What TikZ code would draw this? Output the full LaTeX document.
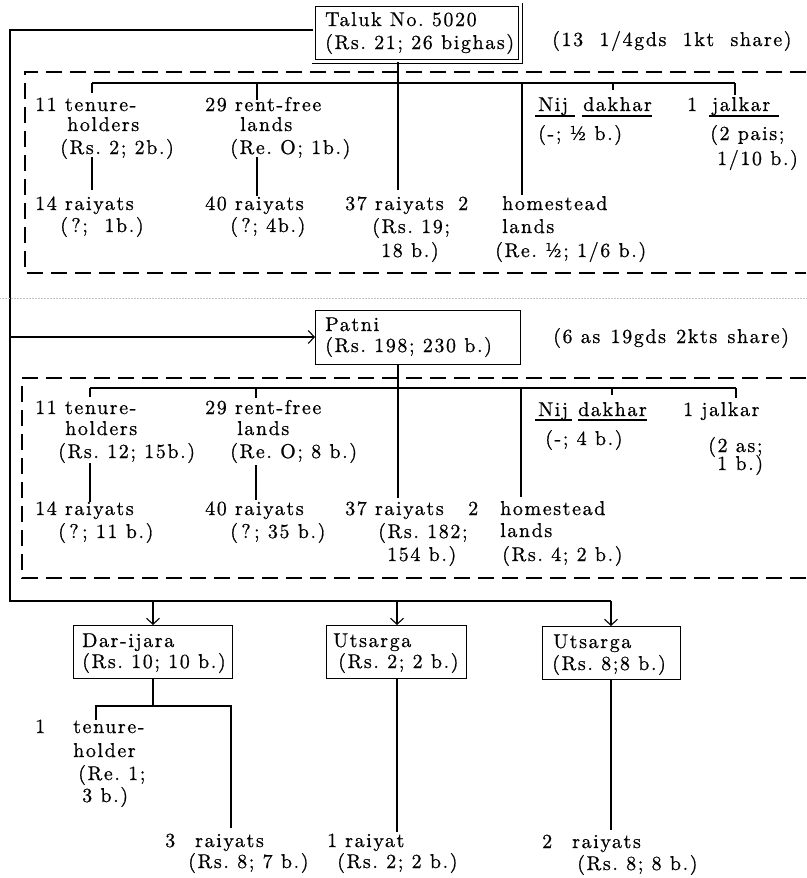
\documentclass[tikz,border=0pt]{standalone}
\usepackage{fontspec}
\setmainfont{lmroman10-regular.otf}[LetterSpace=8, FakeBold=0.7]
\usetikzlibrary{arrows.meta}
\begin{document}
\begin{tikzpicture}[x=1pt,y=-1pt,
  font=\fontsize{20}{23}\selectfont,
  txt/.style={anchor=base west, inner sep=0pt},
  ln/.style={line width=1.1pt},
  dsh/.style={line width=1.2pt, dash pattern=on 16pt off 8pt},
  bx/.style={draw, line width=1.1pt, anchor=north west, inner sep=0pt},
  arr/.style={ln, -{Straight Barb[length=6pt,width=13pt,line width=1.1pt]}}
]
\fill[white] (0,0) rectangle (806,878);
\useasboundingbox (0,0) rectangle (806,878);

% ---------- boxes ----------
\node[bx, double, double distance=2.6pt, line width=0.9pt, minimum width=206.7pt, minimum height=56.7pt] (taluk) at (313.3,4.3) {};
\node[bx, minimum width=205pt, minimum height=54pt] (patni) at (315,310) {};
\node[bx, minimum width=159pt, minimum height=53pt] (dar) at (73,625) {};
\node[bx, minimum width=140pt, minimum height=53pt] (uts1) at (326,625) {};
\node[bx, minimum width=138pt, minimum height=53pt] (uts2) at (542,626) {};

% ---------- box texts ----------
\node[txt] (taluk1) at (325,26) {Taluk No.\ 5020};
\node[txt] (taluk2) at (325,49) {(Rs.\ 21; 26 bighas)};
\node[txt] (share1) at (552,46) {(13\hspace{8pt} 1/4gds\hspace{8pt} 1kt\hspace{8pt} s\kern1.5pt h\kern1.5pt a\kern1.5pt r\kern1.5pt e\kern1.5pt)};
\node[txt] (patni1) at (325,331) {Patni};
\node[txt] (patni2) at (325,352) {(Rs.\ 198; 230 b.)};
\node[txt] (share2) at (553,343) {(6 as\hspace{2pt} 19gds\hspace{2pt} 2kts\hspace{2pt} share)};
\node[txt] (dar1) at (82,647) {Dar-ijara};
\node[txt] (dar2) at (82,668) {(Rs.\ 10; 10 b.)};
\node[txt] (utsa1) at (333,647) {Utsarga};
\node[txt] (utsa2) at (338,668) {(Rs.\ 2; 2 b.)};
\node[txt] (utsb1) at (553,648) {Utsarga};
\node[txt] (utsb2) at (552,670) {(Rs.\ 8;8 b.)};

% ---------- outer connectors ----------
\coordinate (Ltop) at (10,30);
\coordinate (Lpat) at (10,337);
\coordinate (Lbot) at (10,601);
\coordinate (Dtop) at (153,601);
\coordinate (Utop) at (397,601);
\coordinate (Vtop) at (611,601);
\draw[ln] (Ltop -| taluk.west) -- (Ltop) -- (Lbot) -- (Vtop);
\draw[arr] (Lpat) -- (Lpat -| patni.west);
\draw[arr] (Dtop) -- (Dtop |- dar.north);
\draw[arr] (Utop) -- (Utop |- uts1.north);
\draw[arr] (Vtop) -- (Vtop |- uts2.north);

% faint scan line
\draw[gray!45, line width=0.5pt, densely dotted] (0,298) -- (806,298);

% ---------- dashed regions ----------
\draw[dsh] (806,72) -- (25,72) -- (25,273) -- (806,273);
\draw[dsh] (806,378) -- (22,378) -- (22,578) -- (806,578);

% ---------- region 1 texts ----------
\node[txt] (r1a1) at (35,111) {11 tenure-};
\node[txt] (r1a2) at (67,131) {holders};
\node[txt] (r1a3) at (60,154) {(Rs.\ 2; 2b.)};
\node[txt] (r1a4) at (35,210) {14 raiyats};
\node[txt] (r1a5) at (60,232) {(\,?;\ \ 1b.)};
\node[txt] (r1b1) at (205,111) {29 rent-free};
\node[txt] (r1b2) at (240,131) {lands};
\node[txt] (r1b3) at (230,154) {(Re.\ O; 1b.)};
\node[txt] (r1b4) at (205,210) {40 raiyats};
\node[txt] (r1b5) at (230,232) {(\,?; 4b.)};
\node[txt] (r1c1) at (345,210) {37 raiyats};
\node[txt] (r1c2) at (372,233) {(Rs.\ 19;};
\node[txt] (r1c3) at (381,257) {18 b.)};
\node[txt] (r1d0) at (458,210) {2};
\node[txt] (r1d1) at (502,210) {homestead};
\node[txt] (r1d2) at (502,233) {lands};
\node[txt] (r1d3) at (495,257) {(Re.\ ½; 1/6 b.)};
\node[txt] (r1e1) at (538,111) {Nij};
\node[txt] (r1e2) at (583,111) {dakhar};
\node[txt] (r1f0) at (687,111) {1};
\node[txt] (r1f1) at (712,111) {jalkar};
\node[txt] (r1e3) at (538,140) {(-; ½ b.)};
\node[txt] (r1f2) at (710,140) {(2 pais;};
\node[txt] (r1f3) at (717,165) {1/10 b.)};

% underlines region 1
\draw[ln] (535,116) -- (575,116);
\draw[ln] (582,116) -- (652,116);
\draw[ln] (709,116) -- (779,116);

% ---------- region 1 connectors ----------
\coordinate (b1L) at (92,83);
\coordinate (b1R) at (735,83);
\coordinate (b1t1) at (92,93);
\coordinate (b1m) at (257,83);
\coordinate (b1t2) at (257,100);
\coordinate (b1n) at (613,83);
\coordinate (b1t3) at (613,90);
\coordinate (b1t4) at (735,95);
\coordinate (b1h) at (522,83);
\coordinate (b1hE) at (522,195);
\coordinate (tvE) at (398,190);
\draw[ln] (b1L) -- (b1R);
\draw[ln] (b1L) -- (b1t1);
\draw[ln] (b1m) -- (b1t2);
\draw[ln] (b1n) -- (b1t3);
\draw[ln] (b1R) -- (b1t4);
\draw[ln] (b1h) -- (b1hE);
\draw[ln] (tvE |- taluk.south) -- (tvE);
\coordinate (s1a) at (92,157); \coordinate (s1b) at (92,190);
\coordinate (s2a) at (257,157); \coordinate (s2b) at (257,196);
\draw[ln] (s1a) -- (s1b);
\draw[ln] (s2a) -- (s2b);

% ---------- region 2 texts ----------
\node[txt] (r2a1) at (35,414) {11 tenure-};
\node[txt] (r2a2) at (65,435) {holders};
\node[txt] (r2a3) at (58,458) {(Rs.\ 12; 15b.)};
\node[txt] (r2a4) at (35,515) {14 raiyats};
\node[txt] (r2a5) at (58,538) {(\,?\,; 11 b.)};
\node[txt] (r2b1) at (205,414) {29 rent-free};
\node[txt] (r2b2) at (237,435) {lands};
\node[txt] (r2b3) at (230,458) {(Re.\ O; 8 b.)};
\node[txt] (r2b4) at (205,515) {40 raiyats};
\node[txt] (r2b5) at (230,538) {(\,?\,; 35 b.)};
\node[txt] (r2c1) at (345,515) {37 raiyats};
\node[txt] (r2c2) at (378,538) {(Rs.\ 182;};
\node[txt] (r2c3) at (387,561) {154 b.)};
\node[txt] (r2d0) at (468,515) {2};
\node[txt] (r2d1) at (500,515) {homestead};
\node[txt] (r2d2) at (500,537) {lands};
\node[txt] (r2d3) at (502,561) {(Rs.\ 4; 2 b.)};
\node[txt] (r2e1) at (538,416) {Nij};
\node[txt] (r2e2) at (578,416) {dakhar};
\node[txt] (r2f1) at (683,416) {1 jalkar};
\node[txt] (r2e3) at (545,445) {(-; 4 b.)};
\node[txt] (r2f2) at (708,452) {(2 as;};
\node[txt] (r2f3) at (717,470) {1 b.)};

\draw[ln] (535,420) -- (572,420);
\draw[ln] (578,420) -- (647,420);

% ---------- region 2 connectors ----------
\coordinate (b2L) at (90,388);
\coordinate (b2R) at (736,388);
\coordinate (b2t1) at (90,397);
\coordinate (b2m) at (256,388);
\coordinate (b2t2) at (256,398);
\coordinate (b2n) at (612,388);
\coordinate (b2t3) at (612,395);
\coordinate (b2t4) at (736,398);
\coordinate (b2h) at (521,388);
\coordinate (b2hE) at (521,497);
\coordinate (pvE) at (398,498);
\draw[ln] (b2L) -- (b2R);
\draw[ln] (b2L) -- (b2t1);
\draw[ln] (b2m) -- (b2t2);
\draw[ln] (b2n) -- (b2t3);
\draw[ln] (b2R) -- (b2t4);
\draw[ln] (b2h) -- (b2hE);
\draw[ln] (pvE |- patni.south) -- (pvE);
\coordinate (s3a) at (90,463); \coordinate (s3b) at (90,502);
\coordinate (s4a) at (256,465); \coordinate (s4b) at (256,500);
\draw[ln] (s3a) -- (s3b);
\draw[ln] (s4a) -- (s4b);

% ---------- bottom texts ----------
\node[txt] (d1n) at (35,733) {1};
\node[txt] (d1a) at (73,733) {tenure-};
\node[txt] (d1b) at (73,757) {holder};
\node[txt] (d1c) at (78,780) {(Re.\ 1;};
\node[txt] (d1d) at (82,802) {3 b.)};
\node[txt] (d2n) at (165,847) {3};
\node[txt] (d2a) at (195,847) {raiyats};
\node[txt] (d2b) at (188,868) {(Rs.\ 8; 7 b.)};
\node[txt] (u1n) at (327,847) {1};
\node[txt] (u1a) at (345,847) {raiyat};
\node[txt] (u1b) at (337,868) {(Rs.\ 2; 2 b.)};
\node[txt] (v1n) at (542,848) {2};
\node[txt] (v1a) at (572,848) {raiyats};
\node[txt] (v1b) at (577,870) {(Rs.\ 8; 8 b.)};

% ---------- bottom connectors ----------
\coordinate (dj) at (153,706);
\coordinate (djL) at (96,706);
\coordinate (djR) at (231,706);
\coordinate (djLt) at (96,720);
\coordinate (djRt) at (231,828);
\coordinate (u1e) at (397,832);
\coordinate (v1e) at (611,830);
\draw[ln] (dj |- dar.south) -- (dj);
\draw[ln] (djLt) -- (djL) -- (djR) -- (djRt);
\draw[ln] (u1e |- uts1.south) -- (u1e);
\draw[ln] (v1e |- uts2.south) -- (v1e);
\end{tikzpicture}
\end{document}
